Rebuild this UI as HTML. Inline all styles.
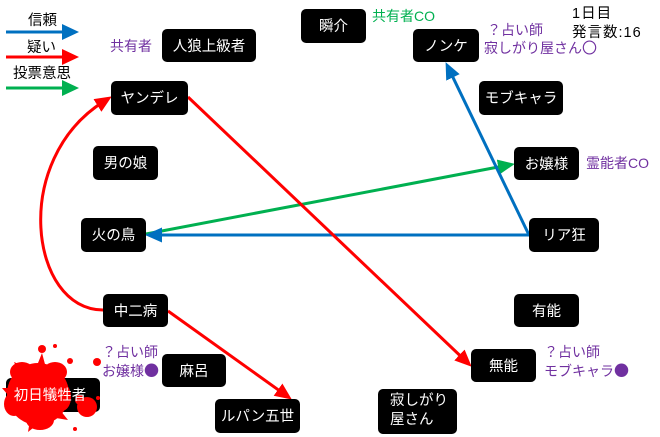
<!DOCTYPE html>
<html>
<head>
<meta charset="utf-8">
<style>
  html, body { margin:0; padding:0; background:#fff; }
  svg { display:block; }
  text { font-family: "Liberation Sans", "Noto Sans CJK JP", sans-serif; }
  .n { fill:#fff; font-size:14.5px; text-anchor:middle; }
  .p { fill:#7030A0; font-size:14px; }
  .g { fill:#00B050; font-size:14px; }
  .k { fill:#000; font-size:14.5px; }
  .big { font-family: "Noto Sans CJK JP", sans-serif; font-size:15px; }
</style>
</head>
<body>
<svg width="660" height="437" viewBox="0 0 660 437" xmlns="http://www.w3.org/2000/svg">
  <defs>
    <marker id="ab" markerUnits="userSpaceOnUse" markerWidth="17" markerHeight="15" refX="8" refY="7.5" orient="auto">
      <path d="M0,0 L17,7.5 L0,15 z" fill="#0070C0"/>
    </marker>
    <marker id="ar" markerUnits="userSpaceOnUse" markerWidth="17" markerHeight="15" refX="8" refY="7.5" orient="auto">
      <path d="M0,0 L17,7.5 L0,15 z" fill="#FF0000"/>
    </marker>
    <marker id="ag" markerUnits="userSpaceOnUse" markerWidth="17" markerHeight="15" refX="8" refY="7.5" orient="auto">
      <path d="M0,0 L17,7.5 L0,15 z" fill="#00B050"/>
    </marker>
  </defs>

  <!-- Legend -->
  <text class="k" x="28" y="25">信頼</text>
  <line x1="6" y1="32" x2="64" y2="32" stroke="#0070C0" stroke-width="3"/>
  <polygon points="62,24 79,32 62,40" fill="#0070C0"/>
  <text class="k" x="27" y="52">疑い</text>
  <line x1="6" y1="57" x2="64" y2="57" stroke="#FF0000" stroke-width="3"/>
  <polygon points="62,49 79,57 62,65" fill="#FF0000"/>
  <text class="k" x="13" y="78">投票意思</text>
  <line x1="6" y1="88" x2="64" y2="88" stroke="#00B050" stroke-width="3"/>
  <polygon points="62,80 79,88 62,96" fill="#00B050"/>

  <!-- Connectors -->
  <line x1="146" y1="234" x2="506.1" y2="165.5" stroke="#00B050" stroke-width="3" marker-end="url(#ag)"/>
  <line x1="529" y1="235" x2="154" y2="235" stroke="#0070C0" stroke-width="3" marker-end="url(#ab)"/>
  <line x1="529" y1="235" x2="449.5" y2="70.2" stroke="#0070C0" stroke-width="3" marker-end="url(#ab)"/>
  <line x1="188" y1="97" x2="465.2" y2="360.5" stroke="#FF0000" stroke-width="3" marker-end="url(#ar)"/>
  <line x1="168" y1="311" x2="284.5" y2="394.3" stroke="#FF0000" stroke-width="3" marker-end="url(#ar)"/>
  <path d="M103,310 C 30,310 10,160 104.2,101.2" fill="none" stroke="#FF0000" stroke-width="3" marker-end="url(#ar)"/>

  <!-- Nodes -->
  <rect x="162" y="29" width="94" height="33" rx="5" fill="#000"/>
  <text class="n" x="209" y="51">人狼上級者</text>

  <rect x="301" y="9" width="65" height="34" rx="5" fill="#000"/>
  <text class="n" x="333.5" y="31">瞬介</text>

  <rect x="413" y="29" width="66" height="33" rx="5" fill="#000"/>
  <text class="n" x="446" y="51">ノンケ</text>

  <rect x="111" y="81" width="77" height="34" rx="5" fill="#000"/>
  <text class="n" x="149.5" y="103">ヤンデレ</text>

  <rect x="479" y="81" width="84" height="34" rx="5" fill="#000"/>
  <text class="n" x="521" y="103">モブキャラ</text>

  <rect x="93" y="146" width="65" height="34" rx="5" fill="#000"/>
  <text class="n" x="125.5" y="168">男の娘</text>

  <rect x="514" y="147" width="65" height="33" rx="5" fill="#000"/>
  <text class="n" x="546.5" y="169">お嬢様</text>

  <rect x="81" y="218" width="65" height="34" rx="5" fill="#000"/>
  <text class="n" x="113.5" y="240">火の鳥</text>

  <rect x="529" y="218" width="70" height="34" rx="5" fill="#000"/>
  <text class="n" x="564" y="240">リア狂</text>

  <rect x="103" y="294" width="65" height="33" rx="5" fill="#000"/>
  <text class="n" x="135.5" y="316">中二病</text>

  <rect x="514" y="294" width="65" height="33" rx="5" fill="#000"/>
  <text class="n" x="546.5" y="316">有能</text>

  <rect x="162" y="354" width="64" height="33" rx="5" fill="#000"/>
  <text class="n" x="194" y="376">麻呂</text>

  <rect x="471" y="349" width="65" height="33" rx="5" fill="#000"/>
  <text class="n" x="503.5" y="371">無能</text>

  <rect x="215" y="399" width="85" height="34" rx="5" fill="#000"/>
  <text class="n" x="257.5" y="421">ルパン五世</text>

  <rect x="378" y="389" width="79" height="45" rx="5" fill="#000"/>
  <text class="n" x="390" y="405" style="text-anchor:start">寂しがり</text>
  <text class="n" x="390" y="424" style="text-anchor:start">屋さん</text>

  <!-- 初日犠牲者 with splatter -->
  <rect x="6" y="378" width="94" height="34" rx="5" fill="#000"/>
  <g fill="#FF0000">
    <circle cx="38" cy="394" r="31"/>
    <ellipse cx="22" cy="372" rx="12" ry="10"/>
    <ellipse cx="55" cy="372" rx="12" ry="10"/>
    <ellipse cx="62" cy="397" rx="9" ry="14"/>
    <ellipse cx="14" cy="404" rx="10" ry="12"/>
    <ellipse cx="40" cy="420" rx="14" ry="10"/>
    <path d="M36,368 L42,353 L46,368 Z"/>
    <path d="M20,375 L14,362 L28,368 Z"/>
    <path d="M8,395 L2,388 L10,388 Z"/>
    <path d="M30,420 L28,432 L38,424 Z"/>
    <path d="M60,410 L68,420 L56,418 Z"/>
    <circle cx="87" cy="407" r="10"/>
    <circle cx="80" cy="400" r="5"/>
    <circle cx="42" cy="349" r="4"/>
    <circle cx="55" cy="346" r="2"/>
    <circle cx="70" cy="361" r="3"/>
    <circle cx="97" cy="362" r="4"/>
    <circle cx="75" cy="429" r="2"/>
    <circle cx="98" cy="398" r="2"/>
  </g>
  <text class="n" x="50" y="400">初日犠牲者</text>

  <!-- Labels -->
  <text class="p" x="110" y="51">共有者</text>
  <text class="g" x="372" y="21">共有者CO</text>
  <text class="p" x="487" y="35">？占い師</text>
  <text class="p" x="484" y="53">寂しがり屋さん<tspan class="big">〇</tspan></text>
  <text class="p" x="586" y="168">霊能者CO</text>
  <text class="p" x="102" y="357">？占い師</text>
  <text class="p" x="102" y="376">お嬢様<tspan class="big">●</tspan></text>
  <text class="p" x="544" y="357">？占い師</text>
  <text class="p" x="544" y="376">モブキャラ<tspan class="big">●</tspan></text>

  <text class="k" x="572" y="18" style="font-size:14.5px;letter-spacing:1px">1日目</text>
  <text class="k" x="572" y="37" style="font-size:14.5px;letter-spacing:1px">発言数:16</text>
</svg>
</body>
</html>
